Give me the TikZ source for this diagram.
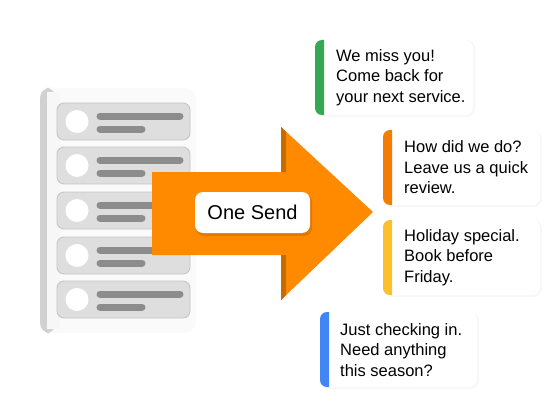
\documentclass[tikz,border=0pt]{standalone}
\usepackage{fontspec}
\setmainfont{Liberation Sans}
\definecolor{arrowor}{HTML}{FF8A00}
\definecolor{arrowdark}{HTML}{C96A00}
\definecolor{rowfill}{HTML}{DEDEDE}
\definecolor{rowline}{HTML}{C6C6C6}
\definecolor{barcol}{HTML}{8C8C8C}
\definecolor{barGreen}{HTML}{34A853}
\definecolor{barOrange}{HTML}{F57C00}
\definecolor{barYellow}{HTML}{FBC02D}
\definecolor{barBlue}{HTML}{4285F4}
\tikzset{
  rowbox/.style={fill=rowfill, draw=rowline, line width=0.9pt, rounded corners=7pt},
  linebar/.style={draw=barcol, line width=7pt, line cap=round},
  msgtext/.style={font=\fontsize{16.5}{20.5}\selectfont, align=left, anchor=west, inner sep=0pt, text=black},
  cardbody/.style={fill=white, rounded corners=8pt},
  cardshadow/.style={fill=black, opacity=0.03, rounded corners=9pt},
}
\begin{document}
\begin{tikzpicture}[x=1pt,y=-1pt]
\useasboundingbox (0,0) rectangle (560,420);
\fill[white] (0,0) rectangle (560,420);
% panel
\fill[black!2, rounded corners=12pt] (40,88) rectangle (196,333);
\fill[black!18, rounded corners=10pt] (40,88) rectangle (56,333);
\fill[black!3] (47,92) rectangle (60,329);
% rows
\foreach \t in {103,147,192,237,281}{
  \draw[rowbox] (57,\t) rectangle (190,\t+37);
  \fill[white] (77,\t+18.5) circle (11.5);
  \draw[linebar] (100,\t+13) -- (180,\t+13);
  \draw[linebar] (100,\t+26) -- (142,\t+26);
}
% arrow
\fill[arrowor] (152,172) -- (281,172) -- (281,127) -- (373,212) -- (281,300) -- (281,255) -- (152,255) -- cycle;
\fill[arrowdark] (281,127) -- (286,132) -- (286,172) -- (281,172) -- cycle;
\fill[arrowdark] (281,255) -- (286,255) -- (286,295) -- (281,300) -- cycle;
% label
\fill[black, opacity=0.12, rounded corners=8pt] (196,194) rectangle (312,236);
\node[fill=white, rounded corners=8pt, minimum width=115pt, minimum height=41pt, inner sep=0pt,
      font=\fontsize{20}{24}\selectfont] (send) at (252.5,212.5) {One Send};
% cards
\foreach \x/\y/\w/\c in {315/40/158/barGreen, 383/130/157/barOrange, 383/220/157/barYellow, 320/312/157/barBlue}{
  \fill[cardshadow] (\x,\y) rectangle (\x+\w+2,\y+77);
  \fill[cardbody] (\x,\y) rectangle (\x+\w,\y+75);
  \fill[\c] (\x+9,\y) [rounded corners=7pt] -- (\x,\y) -- (\x,\y+75) [sharp corners] -- (\x+9,\y+75) -- cycle;
}
\node[msgtext] (t1) at (336,77.5) {We miss you!\\Come back for\\your next service.};
\node[msgtext] (t2) at (404,167.5) {How did we do?\\Leave us a quick\\review.};
\node[msgtext] (t3) at (404,257.5) {Holiday special.\\Book before\\Friday.};
\node[msgtext] (t4) at (340,350) {Just checking in.\\Need anything\\this season?};
\end{tikzpicture}
\end{document}
